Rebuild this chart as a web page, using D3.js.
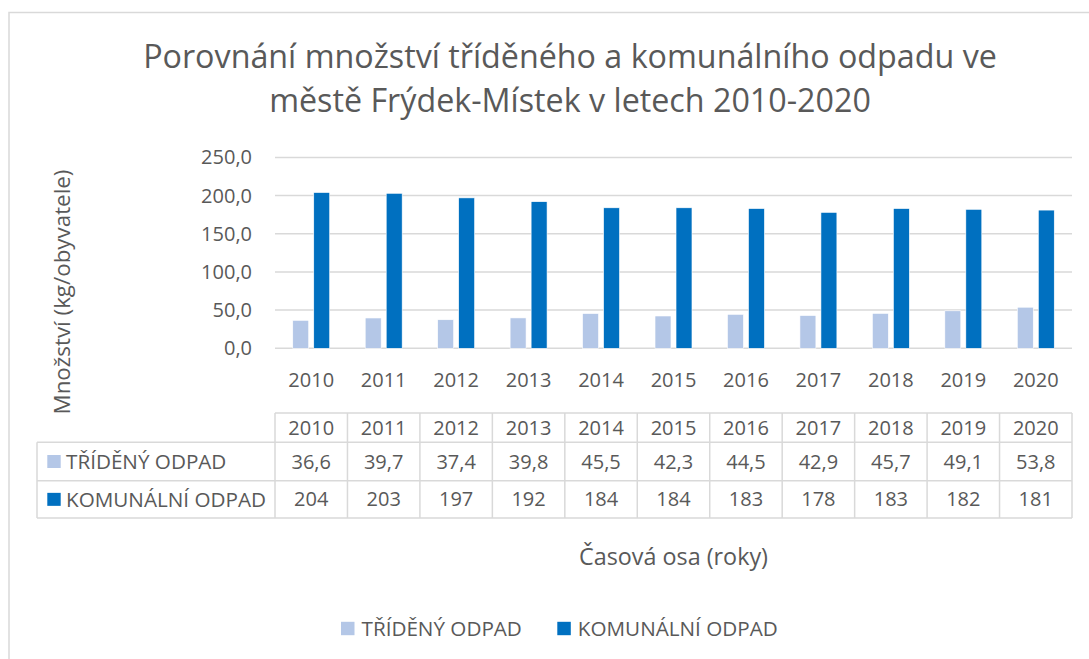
<!DOCTYPE html>
<html>
<head>
<meta charset="utf-8">
<script src="https://cdn.jsdelivr.net/npm/d3@7"></script>
<style>
  body { margin: 0; background: #fff; }
  svg { display: block; font-family: "Open Sans", sans-serif; }
</style>
</head>
<body>
<svg id="chart" width="1089" height="659"></svg>
<script>
// Data
var years = ["2010", "2011", "2012", "2013", "2014", "2015", "2016", "2017", "2018", "2019", "2020"];
var sortedWaste = [36.6, 39.7, 37.4, 39.8, 45.5, 42.3, 44.5, 42.9, 45.7, 49.1, 53.8];
var communalWaste = [204, 203, 197, 192, 184, 184, 183, 178, 183, 182, 181];
var seriesNames = ["TŘÍDĚNÝ ODPAD", "KOMUNÁLNÍ ODPAD"];
var seriesColors = ["#b4c7e7", "#0070c0"];
var yTicks = [0, 50, 100, 150, 200, 250];
var titleLines = ["Porovnání množství tříděného a komunálního odpadu ve", "městě Frýdek-Místek v letech 2010-2020"];

var textColor = "#595959";
var gridColor = "#d9d9d9";

var svg = d3.select("#chart");
var margin = { left: 275, right: 1072, top: 157.4, bottom: 348.3 };

// comma as decimal separator
function czNum(v, digits) {
    return d3.format("." + digits + "f")(v).replace(".", ",");
}

// shrink or grow font so a text hits a given width
function fitWidth(sel, w) {
    var node = sel.node();
    var fs = parseFloat(sel.attr("font-size"));
    var len = node.getComputedTextLength();
    sel.attr("font-size", (fs * w / len).toFixed(2));
    return sel;
}

// outer frame
svg.append("rect")
    .attr("x", 9).attr("y", 12.5)
    .attr("width", 1100).attr("height", 700)
    .attr("fill", "none")
    .attr("stroke", gridColor)
    .attr("stroke-width", 1.5);

// title
titleLines.forEach(function (line, i) {
    var t = svg.append("text")
        .attr("x", 570)
        .attr("y", 68 + i * 44)
        .attr("text-anchor", "middle")
        .attr("fill", textColor)
        .attr("font-size", 30)
        .text(line);
    if (i == 0) fitWidth(t, 854);
    else t.attr("font-size", svg.select("text:last-of-type").attr("font-size"));
});
var titleSize = svg.selectAll("text").filter(function (d, i) { return i == 0; }).attr("font-size");
svg.selectAll("text").attr("font-size", titleSize);

// scales
var x = d3.scaleBand()
    .domain(years)
    .range([margin.left, margin.right])
    .paddingInner(0)
    .paddingOuter(0);

var xs = d3.scaleBand()
    .domain(d3.range(seriesNames.length))
    .range([0, x.bandwidth()])
    .paddingInner(0.24)
    .paddingOuter(0.845);

var y = d3.scaleLinear()
    .domain([0, 250])
    .range([margin.bottom, margin.top]);

// gridlines
svg.append("g")
    .selectAll("line")
    .data(yTicks)
    .join("line")
    .attr("x1", margin.left)
    .attr("x2", margin.right)
    .attr("y1", (d) => y(d))
    .attr("y2", (d) => y(d))
    .attr("stroke", gridColor)
    .attr("stroke-width", 1.5);

// y tick labels
svg.append("g")
    .selectAll("text")
    .data(yTicks)
    .join("text")
    .attr("x", 252)
    .attr("y", (d) => y(d))
    .attr("dy", "0.35em")
    .attr("text-anchor", "end")
    .attr("fill", textColor)
    .attr("font-size", 20)
    .text((d) => czNum(d, 1));

// bars
var rows = years.map((yr, i) => ({ year: yr, values: [sortedWaste[i], communalWaste[i]] }));
svg.append("g")
    .selectAll("g")
    .data(rows)
    .join("g")
    .attr("transform", (d) => `translate(${x(d.year)},0)`)
    .selectAll("rect")
    .data((d) => d.values.map((v, s) => ({ v, s })))
    .join("rect")
    .attr("x", (d) => xs(d.s))
    .attr("width", xs.bandwidth())
    .attr("y", (d) => y(d.v))
    .attr("height", (d) => y(0) - y(d.v))
    .attr("fill", (d) => seriesColors[d.s])
    .attr("stroke", "#fff")
    .attr("stroke-width", 0.6);

// category labels under the axis
svg.append("g")
    .selectAll("text")
    .data(years)
    .join("text")
    .attr("x", (d) => x(d) + x.bandwidth() / 2)
    .attr("y", 380)
    .attr("dy", "0.35em")
    .attr("text-anchor", "middle")
    .attr("fill", textColor)
    .attr("font-size", 20)
    .text((d) => d);

// y axis title
var yTitle = svg.append("text")
    .attr("transform", "translate(62,292) rotate(-90)")
    .attr("dy", "0.35em")
    .attr("text-anchor", "middle")
    .attr("fill", textColor)
    .attr("font-size", 21)
    .text("Množství (kg/obyvatele)");
fitWidth(yTitle, 245);

// data table
var table = svg.append("g");
var rowTop = [413, 442.3, 480.7, 518];
var labelLeft = 37;

// horizontal lines
table.append("line")
    .attr("x1", margin.left).attr("x2", margin.right)
    .attr("y1", rowTop[0]).attr("y2", rowTop[0]);
rowTop.slice(1).forEach(function (yy) {
    table.append("line")
        .attr("x1", labelLeft).attr("x2", margin.right)
        .attr("y1", yy).attr("y2", yy);
});
// vertical lines
table.append("line")
    .attr("x1", labelLeft).attr("x2", labelLeft)
    .attr("y1", rowTop[1]).attr("y2", rowTop[3]);
x.domain().concat(["end"]).forEach(function (yr) {
    var xx = yr == "end" ? margin.right : x(yr);
    table.append("line")
        .attr("x1", xx).attr("x2", xx)
        .attr("y1", rowTop[0]).attr("y2", rowTop[3]);
});
table.selectAll("line")
    .attr("stroke", gridColor)
    .attr("stroke-width", 1.5);

// header years
table.append("g")
    .selectAll("text")
    .data(years)
    .join("text")
    .attr("x", (d) => x(d) + x.bandwidth() / 2)
    .attr("y", (rowTop[0] + rowTop[1]) / 2)
    .attr("dy", "0.35em")
    .attr("text-anchor", "middle")
    .attr("fill", textColor)
    .attr("font-size", 20)
    .text((d) => d);

// value rows
var tableSeries = [
    sortedWaste.map((v) => czNum(v, 1)),
    communalWaste.map((v) => czNum(v, 0))
];
tableSeries.forEach(function (vals, s) {
    var cy = (rowTop[s + 1] + rowTop[s + 2]) / 2;
    table.append("g")
        .selectAll("text")
        .data(vals)
        .join("text")
        .attr("x", (d, i) => x(years[i]) + x.bandwidth() / 2)
        .attr("y", cy)
        .attr("dy", "0.35em")
        .attr("text-anchor", "middle")
        .attr("fill", textColor)
        .attr("font-size", 20)
        .text((d) => d);

    table.append("rect")
        .attr("x", 47.3).attr("y", cy - 6.5)
        .attr("width", 13.4).attr("height", 13)
        .attr("fill", seriesColors[s]);
    var lbl = table.append("text")
        .attr("x", 66)
        .attr("y", cy)
        .attr("dy", "0.35em")
        .attr("fill", textColor)
        .attr("font-size", 19)
        .text(seriesNames[s]);
    if (s == 0) fitWidth(lbl, 160.5);
});
var lblSize = table.selectAll("text").filter(function () { return this.textContent == seriesNames[0]; }).attr("font-size");
table.selectAll("text").filter(function () { return seriesNames.indexOf(this.textContent) >= 0; }).attr("font-size", lblSize);

// x axis title
var xTitle = svg.append("text")
    .attr("x", 673.5)
    .attr("y", 557)
    .attr("dy", "0.35em")
    .attr("text-anchor", "middle")
    .attr("fill", textColor)
    .attr("font-size", 21)
    .text("Časová osa (roky)");
fitWidth(xTitle, 189);

// legend
var legendX = [341, 557.3];
var legend = svg.append("g")
    .selectAll("g")
    .data(seriesNames)
    .join("g")
    .attr("transform", (d, i) => `translate(${legendX[i]},628.5)`);
legend.append("rect")
    .attr("x", 0).attr("y", -6.7)
    .attr("width", 13.5).attr("height", 13.4)
    .attr("fill", (d, i) => seriesColors[i]);
legend.append("text")
    .attr("x", 20.5)
    .attr("dy", "0.35em")
    .attr("fill", textColor)
    .attr("font-size", lblSize)
    .text((d) => d);
</script>
</body>
</html>
